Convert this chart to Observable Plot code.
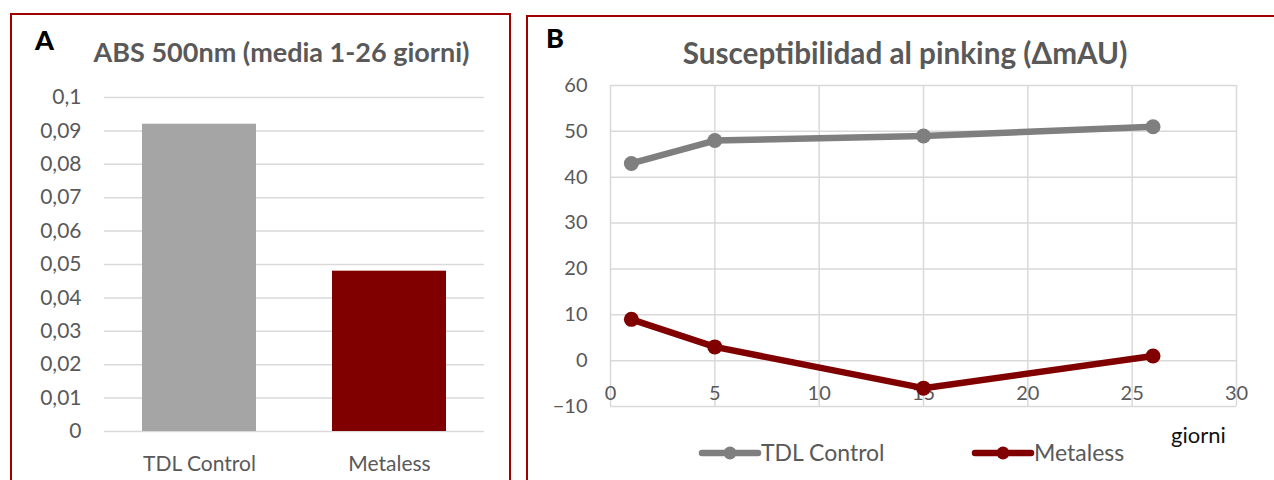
<!DOCTYPE html>
<html>
<head>
<meta charset="utf-8">
<script src="https://cdn.jsdelivr.net/npm/d3@7"></script>
<script src="https://cdn.jsdelivr.net/npm/@observablehq/plot@0.6"></script>
<style>
  html, body { margin: 0; padding: 0; background: #fff; }
  #page { position: relative; width: 1274px; height: 480px; overflow: hidden; background: #fff; font-family: Lato, "Open Sans", sans-serif; }
  .panel { position: absolute; box-sizing: border-box; border: 2px solid #a00000; }
  .chart { position: absolute; top: 0; }
  #overlay { position: absolute; left: 0; top: 0; }
</style>
</head>
<body>
<div id="page">
  <div class="panel" style="left:10px; top:13px; width:501px; height:490px;"></div>
  <div class="panel" style="left:526px; top:15px; width:770px; height:490px;"></div>
  <div id="chartA" class="chart" style="left:0px;"></div>
  <div id="chartB" class="chart" style="left:520px;"></div>
  <svg id="overlay" width="1274" height="480"></svg>
</div>
<script>
// ---------- Panel A data ----------
const categoriesA = ["TDL Control", "Metaless"];
const absValues = [0.092, 0.048];
const barColors = ["#a5a5a5", "#800000"];
const yTicksA = [0, 0.01, 0.02, 0.03, 0.04, 0.05, 0.06, 0.07, 0.08, 0.09, 0.1];
const titleA = "ABS 500nm (media 1-26 giorni)";

// ---------- Panel B data ----------
const days = [1, 5, 15, 26];
const tdlValues = [43, 48, 49, 51];
const metalessValues = [9, 3, -6, 1];
const seriesNames = ["TDL Control", "Metaless"];
const seriesColors = ["#7f7f7f", "#800000"];
const xTicksB = [0, 5, 10, 15, 20, 25, 30];
const yTicksB = [-10, 0, 10, 20, 30, 40, 50, 60];
const titleB = "Susceptibilidad al pinking (ΔmAU)";
const xLabelB = "giorni";

const textColor = "#595959";
const gridColor = "#d9d9d9";
const fmtComma = d => d3.format("~g")(d).replace(".", ",");

// ---------- Panel A chart ----------
const barData = categoriesA.map((c, i) => ({cat: c, value: absValues[i]}));
const chartA = Plot.plot({
  width: 520, height: 480,
  marginLeft: 104, marginRight: 36, marginTop: 97, marginBottom: 49,
  style: {fontFamily: "Lato", fontSize: "20px", color: textColor, background: "transparent", overflow: "visible"},
  x: {domain: categoriesA, paddingInner: 0.4, paddingOuter: 0.2, axis: null, label: null},
  y: {domain: [0, 0.1], axis: null, label: null},
  color: {domain: categoriesA, range: barColors},
  marks: [
    Plot.gridY(yTicksA, {stroke: gridColor, strokeOpacity: 1, strokeWidth: 1.5}),
    Plot.barY(barData, {x: "cat", y: "value", fill: "cat"}),
    Plot.axisY(yTicksA, {tickSize: 0, tickPadding: 23, tickFormat: fmtComma, fontSize: 21, fill: textColor}),
    Plot.axisX({tickSize: 0, tickPadding: 25, fontSize: 21, fill: textColor})
  ]
});
document.getElementById("chartA").appendChild(chartA);

// ---------- Panel B chart ----------
const lineData = [];
days.forEach((d, i) => lineData.push({series: seriesNames[0], day: d, value: tdlValues[i]}));
days.forEach((d, i) => lineData.push({series: seriesNames[1], day: d, value: metalessValues[i]}));

const chartB = Plot.plot({
  width: 754, height: 480,
  marginLeft: 90, marginRight: 38, marginTop: 85, marginBottom: 74,
  style: {fontFamily: "Lato", fontSize: "19px", color: textColor, background: "transparent", overflow: "visible"},
  x: {domain: [0, 30], axis: null, label: null},
  y: {domain: [-10, 60], axis: null, label: null},
  color: {domain: seriesNames, range: seriesColors},
  marks: [
    Plot.gridX(xTicksB, {stroke: gridColor, strokeOpacity: 1, strokeWidth: 1.5}),
    Plot.gridY(yTicksB, {stroke: gridColor, strokeOpacity: 1, strokeWidth: 1.5}),
    Plot.axisY(yTicksB, {tickSize: 0, tickPadding: 23, fontSize: 20, fill: textColor}),
    Plot.axisX(xTicksB, {tickSize: 0, tickPadding: 0, dy: -21, fontSize: 20, fill: textColor}),
    Plot.line(lineData, {x: "day", y: "value", z: "series", stroke: "series", strokeWidth: 6.5}),
    Plot.dot(lineData, {x: "day", y: "value", fill: "series", r: 7.5})
  ]
});
document.getElementById("chartB").appendChild(chartB);

// ---------- Overlay: titles, panel letters, legend, axis label ----------
const ov = d3.select("#overlay");
ov.append("text").attr("x", 35).attr("y", 50).attr("font-family", "Lato").attr("font-weight", 900)
  .attr("font-size", 27).attr("fill", "#000").text("A");
ov.append("text").attr("x", 546).attr("y", 48).attr("font-family", "Lato").attr("font-weight", 900)
  .attr("font-size", 27).attr("fill", "#000").text("B");
ov.append("text").attr("x", 281.5).attr("y", 62).attr("text-anchor", "middle").attr("font-family", "Lato")
  .attr("font-weight", 700).attr("font-size", 27).attr("fill", textColor).text(titleA);
ov.append("text").attr("x", 905).attr("y", 64).attr("text-anchor", "middle").attr("font-family", "Lato")
  .attr("font-weight", 700).attr("font-size", 29.7).attr("fill", textColor).text(titleB);
ov.append("text").attr("x", 1171).attr("y", 443).attr("font-family", "Lato")
  .attr("font-size", 22).attr("fill", "#111").text(xLabelB);

const legendX = [702, 975];
seriesNames.forEach((name, i) => {
  const x0 = legendX[i], y0 = 453;
  ov.append("line").attr("x1", x0).attr("x2", x0 + 56).attr("y1", y0).attr("y2", y0)
    .attr("stroke", seriesColors[i]).attr("stroke-width", 6.5).attr("stroke-linecap", "round");
  ov.append("circle").attr("cx", x0 + 28).attr("cy", y0).attr("r", 6.5).attr("fill", seriesColors[i]);
  ov.append("text").attr("x", x0 + 59).attr("y", y0 + 8).attr("font-family", "Lato")
    .attr("font-size", 23).attr("fill", textColor).text(name);
});
</script>
</body>
</html>
